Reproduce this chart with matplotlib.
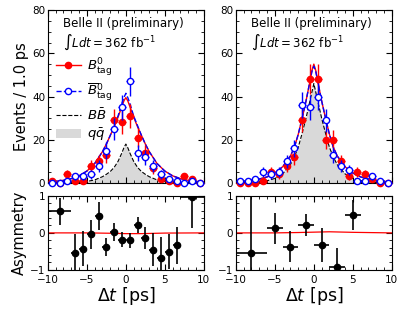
import numpy as np
import matplotlib.pyplot as plt
from matplotlib.lines import Line2D
from matplotlib.patches import Patch
from matplotlib.ticker import MultipleLocator

# binned data, 1 ps bins from -10 to 10
bins = np.arange(-9.5, 10, 1.0)
left_b0 = [1, 0, 4, 1, 1, 8, 10, 13, 29, 28, 31, 21, 14, 7, 2, 1, 0, 3, 2, 0]
left_b0bar = [0, 0, 1, 3, 3, 4, 8, 15, 25, 35, 47, 14, 12, 8, 4, 2, 1, 0, 1, 0]
right_b0 = [0, 0, 0, 1, 5, 4, 8, 12, 29, 48, 48, 20, 20, 10, 3, 5, 4, 2, 0, 0]
right_b0bar = [1, 1, 2, 5, 4, 5, 10, 16, 36, 35, 40, 29, 13, 8, 6, 1, 1, 3, 1, 0]

# fit curves
xc = [-10, -9, -8, -7, -6, -5, -4, -3, -2.5, -2, -1.5, -1, -0.75, -0.5, -0.25, 0,
      0.25, 0.5, 0.75, 1, 1.5, 2, 2.5, 3, 4, 5, 6, 7, 8, 9, 10]
left_fit_b0 = [0.4, 0.7, 1.2, 2.0, 3.3, 5.5, 9, 14.5, 18, 22, 26, 30.5, 33, 35.5, 38, 39.5,
               38, 35.5, 33, 30.5, 26, 22, 18, 14.5, 9, 5.5, 3.3, 2.0, 1.2, 0.7, 0.4]
left_fit_b0bar = [0.4, 0.7, 1.2, 2.0, 3.3, 5.5, 9, 14.5, 18, 22, 26.5, 31, 34, 37, 39.5, 41.5,
                  39.5, 37, 34, 31, 26.5, 22, 18, 14.5, 9, 5.5, 3.3, 2.0, 1.2, 0.7, 0.4]
left_qq = [0.05, 0.08, 0.1, 0.2, 0.35, 0.7, 1.4, 2.9, 4, 5.3, 7.2, 10, 12, 14, 16.3, 18,
           16.3, 14, 12, 10, 7.2, 5.3, 4, 2.9, 1.4, 0.7, 0.35, 0.2, 0.1, 0.08, 0.05]
right_fit_b0 = [0.4, 0.7, 1.1, 1.8, 2.8, 4.6, 7.5, 12.5, 16.5, 22.5, 30, 38, 42.5, 47, 52, 55,
                52, 47, 42.5, 38, 30, 22.5, 16.5, 12.5, 7.5, 4.6, 2.8, 1.8, 1.1, 0.7, 0.4]
right_fit_b0bar = [0.4, 0.7, 1.1, 1.8, 2.8, 4.6, 7.5, 12.5, 16.5, 22.5, 30, 38, 42.5, 47, 51.5, 54,
                   51.5, 47, 42.5, 38, 30, 22.5, 16.5, 12.5, 7.5, 4.6, 2.8, 1.8, 1.1, 0.7, 0.4]
right_qq = [0.08, 0.15, 0.25, 0.5, 1.0, 2.1, 4.2, 8.5, 12, 16.5, 23, 30, 34, 38, 42, 46,
            42, 38, 34, 30, 23, 16.5, 12, 8.5, 4.2, 2.1, 1.0, 0.5, 0.25, 0.15, 0.08]

# asymmetry
left_ax_x = [-8.5, -6.5, -5.5, -4.5, -3.5, -2.5, -1.5, -0.5, 0.5, 1.5, 2.5, 3.5, 4.5, 5.5, 6.5, 8.5]
left_ax_xerr = [1.5, 0.5, 0.5, 0.5, 0.5, 0.5, 0.5, 0.5, 0.5, 0.5, 0.5, 0.5, 0.5, 0.5, 0.5, 1.5]
left_asym = [0.58, -0.54, -0.43, -0.04, 0.46, -0.38, 0.02, -0.18, -0.2, 0.22, -0.13, -0.45, -0.67, -0.51, -0.33, 0.98]
left_asym_err = [0.37, 0.5, 0.47, 0.4, 0.37, 0.25, 0.25, 0.2, 0.2, 0.22, 0.3, 0.45, 0.55, 0.47, 0.5, 0.85]
right_ax_x = [-8, -5, -3, -1, 1, 3, 5]
right_ax_xerr = [2, 1, 1, 1, 1, 1, 1]
right_asym = [-0.55, 0.13, -0.37, 0.22, -0.33, -0.92, 0.49]
right_asym_err = [1.6, 0.42, 0.43, 0.3, 0.45, 0.5, 0.41]
asym_fit_x = [-10, -5, -2, 0, 2, 5, 10]
left_asym_fit = [0, 0, -0.01, -0.02, -0.02, -0.005, 0]
right_asym_fit = [0, 0, 0.01, 0.02, 0.03, 0.015, 0]

RED = '#ff0000'
BLUE = '#0000ff'
GRAY = '#d9d9d9'

fig = plt.figure(figsize=(4.06, 3.16), dpi=100)
tops = [fig.add_axes([0.118, 0.421, 0.384, 0.547]), fig.add_axes([0.581, 0.421, 0.384, 0.547])]
bots = [fig.add_axes([0.118, 0.146, 0.384, 0.234]), fig.add_axes([0.581, 0.146, 0.384, 0.234])]

panels = [(left_b0, left_b0bar, left_fit_b0, left_fit_b0bar, left_qq),
          (right_b0, right_b0bar, right_fit_b0, right_fit_b0bar, right_qq)]

for ax, (b0, b0bar, f0, f0bar, qq) in zip(tops, panels):
    ax.fill_between(xc, 0, qq, color=GRAY, lw=0)
    ax.plot(xc, qq, color='black', ls='--', lw=0.8)
    ax.plot(xc, f0, color=RED, lw=1.0)
    ax.plot(xc, f0bar, color=BLUE, lw=1.0, ls='--')
    ax.errorbar(bins, b0, xerr=0.5, yerr=np.sqrt(b0), fmt='o', color=RED, ms=4.5,
                elinewidth=1.0, capsize=0, clip_on=False, zorder=4)
    ax.errorbar(bins, b0bar, xerr=0.5, yerr=np.sqrt(b0bar), fmt='o', color=BLUE, mfc='white',
                ms=4.5, mew=1.0, elinewidth=1.0, capsize=0, clip_on=False, zorder=5)
    ax.set_xlim(-10, 10)
    ax.set_ylim(0, 80)
    ax.xaxis.set_major_locator(MultipleLocator(5))
    ax.xaxis.set_minor_locator(MultipleLocator(1))
    ax.yaxis.set_major_locator(MultipleLocator(20))
    ax.yaxis.set_minor_locator(MultipleLocator(5))
    ax.tick_params(labelbottom=False)
    ax.text(0.095, 0.92, 'Belle II (preliminary)', transform=ax.transAxes, fontsize=8.5, va='center')
    ax.text(0.095, 0.815, r'$\int L dt = 362\ \mathrm{fb}^{-1}$', transform=ax.transAxes,
            fontsize=8.5, va='center')

asyms = [(left_ax_x, left_ax_xerr, left_asym, left_asym_err, left_asym_fit),
         (right_ax_x, right_ax_xerr, right_asym, right_asym_err, right_asym_fit)]
for ax, (x, xe, a, ae, af) in zip(bots, asyms):
    ax.plot(asym_fit_x, af, color=RED, lw=0.9)
    ax.errorbar(x, a, xerr=xe, yerr=ae, fmt='o', color='black', ms=4.5, elinewidth=1.2, capsize=0)
    ax.set_xlim(-10, 10)
    ax.set_ylim(-1, 1)
    ax.xaxis.set_major_locator(MultipleLocator(5))
    ax.xaxis.set_minor_locator(MultipleLocator(1))
    ax.yaxis.set_major_locator(MultipleLocator(1))
    ax.yaxis.set_minor_locator(MultipleLocator(0.2))
    ax.set_xlabel(r'$\Delta t$ [ps]', fontsize=12.5, labelpad=0)

for ax in tops + bots:
    ax.tick_params(which='both', direction='in', top=True, right=True, labelsize=7.5, pad=2)
    ax.tick_params(which='major', length=4)
    ax.tick_params(which='minor', length=2)
for ax in bots:
    ax.tick_params(axis='x', pad=4)

tops[0].set_ylabel('Events / 1.0 ps', fontsize=10.5, labelpad=2)
bots[0].set_ylabel('Asymmetry', fontsize=10.5, labelpad=2)

handles = [
    Line2D([], [], color=RED, marker='o', ms=4.5, lw=1.0),
    Line2D([], [], color=BLUE, marker='o', mfc='white', ms=4.5, lw=1.0, ls='--'),
    Line2D([], [], color='black', ls='--', lw=0.8),
    Patch(facecolor=GRAY, edgecolor='none'),
]
labels = [r'$B^0_{\rm tag}$', r'$\overline{B}^0_{\rm tag}$', r'$B\bar{B}$', r'$q\bar{q}$']
leg = tops[0].legend(handles, labels, loc='upper left', bbox_to_anchor=(-0.01, 0.79), frameon=False,
                     fontsize=9.5, handlelength=1.9, labelspacing=0.3, handletextpad=0.5, borderpad=0.2)
leg.set_zorder(10)

fig.savefig('out.png', dpi=100)
